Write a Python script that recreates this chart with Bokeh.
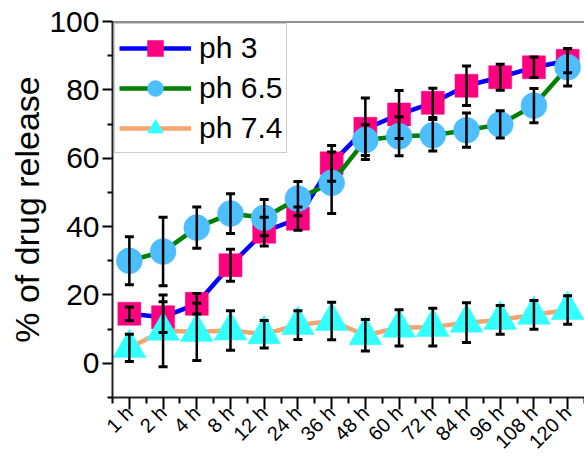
import numpy as np
from bokeh.plotting import figure
from bokeh.models import (ColumnDataSource, Whisker, TeeHead, Range1d, FixedTicker,
                          Legend, LegendItem, Span)
from bokeh.embed import file_html
from bokeh.resources import INLINE

categories = ["1 h", "2 h", "4 h", "8 h", "12 h", "24 h", "36 h", "48 h",
              "60 h", "72 h", "84 h", "96 h", "108 h", "120 h"]

ph3 = [14.5, 13.5, 17.4, 28.7, 38.5, 42.3, 58.5, 68.6, 72.8, 76.2, 81.2, 83.7, 86.6, 88.5]
ph3_err = [2.0, 4.5, 3.0, 4.7, 4.2, 3.4, 5.2, 9.0, 7.0, 4.3, 5.8, 3.8, 3.0, 3.5]

ph65 = [30.0, 32.7, 39.7, 43.8, 42.6, 48.2, 52.8, 65.3, 66.4, 66.7, 68.2, 69.9, 75.4, 86.6]
ph65_err = [7.0, 10.0, 6.0, 5.8, 5.3, 5.0, 9.0, 4.5, 5.7, 4.6, 5.0, 4.0, 5.0, 5.5]

ph74 = [4.5, 9.5, 9.2, 9.6, 8.5, 11.2, 12.4, 8.2, 10.4, 10.6, 11.9, 12.7, 14.2, 15.6]
ph74_err = [4.0, 10.5, 8.4, 5.8, 4.0, 4.2, 5.5, 4.6, 5.3, 5.5, 5.8, 4.2, 4.2, 4.2]

FONT = "Liberation Sans"

p = figure(width=584, height=463, output_backend="svg", toolbar_location=None,
           x_range=Range1d(-0.5, 13.5), y_range=Range1d(-10, 100),
           min_border_left=112, min_border_right=0, min_border_top=21,
           min_border_bottom=10)
p.outline_line_color = None
p.xgrid.visible = False
p.ygrid.visible = False
p.background_fill_color = "white"

xs = list(range(len(categories)))

series = [
    ("ph 3", ph3, ph3_err, "#0000FF", "square", "#FF0080", 23),
    ("ph 6.5", ph65, ph65_err, "#008000", "circle", "#4DBEFF", 26),
    ("ph 7.4", ph74, ph74_err, "#F7A46E", "triangle", "#33FFFF", 33),
]

items = []
whisk_sources = []
for label, vals, errs, lcol, marker, mcol, msize in series:
    v = np.array(vals)
    e = np.array(errs)
    src = ColumnDataSource(dict(x=xs, y=vals, upper=(v + e).tolist(), lower=(v - e).tolist()))
    lr = p.line("x", "y", source=src, line_color=lcol, line_width=4.5)
    sr = p.scatter("x", "y", source=src, marker=marker, size=msize,
                   fill_color=mcol, line_color=mcol, line_width=0.5)
    items.append(LegendItem(label=label, renderers=[lr, sr]))
    whisk_sources.append(src)

for src in whisk_sources:
    w = Whisker(base="x", upper="upper", lower="lower", source=src,
                line_color="black", line_width=2.5, level="overlay",
                upper_head=TeeHead(size=9, line_color="black", line_width=3),
                lower_head=TeeHead(size=9, line_color="black", line_width=3))
    p.add_layout(w)

legend = Legend(items=items, location="top_left", margin=2,
                label_text_font=FONT, label_text_font_size="30px",
                label_text_color="black",
                glyph_width=72, glyph_height=40, label_height=40,
                label_standoff=8, spacing=-1, padding=4,
                border_line_color="#999999", border_line_width=1,
                background_fill_color="white", background_fill_alpha=1.0)
p.add_layout(legend)

top = Span(location=100, dimension="width", line_color="#222222", line_width=2)
p.add_layout(top)

# y axis
yax = p.yaxis[0]
yax.ticker = FixedTicker(ticks=[0, 20, 40, 60, 80, 100], minor_ticks=[-10, 10, 30, 50, 70, 90])
yax.axis_label = "% of drug release"
yax.axis_label_text_font = FONT
yax.axis_label_text_font_size = "34px"
yax.axis_label_text_font_style = "normal"
yax.axis_label_text_color = "black"
yax.axis_label_standoff = 0
yax.major_label_text_font = FONT
yax.major_label_text_font_size = "30px"
yax.major_label_text_color = "black"
yax.major_label_standoff = 3
yax.axis_line_width = 2
yax.axis_line_color = "#222222"
yax.major_tick_line_width = 2
yax.minor_tick_line_width = 2
yax.major_tick_out = 10
yax.major_tick_in = 0
yax.minor_tick_out = 5
yax.minor_tick_in = 0

# x axis
xax = p.xaxis[0]
xax.ticker = FixedTicker(ticks=xs, minor_ticks=[i - 0.5 for i in range(len(xs) + 1)])
xax.major_label_overrides = {i: c for i, c in enumerate(categories)}
xax.major_label_orientation = np.pi / 4
xax.major_label_text_font = FONT
xax.major_label_text_font_size = "20px"
xax.major_label_text_color = "black"
xax.major_label_standoff = 0
xax.axis_line_width = 2
xax.axis_line_color = "#222222"
xax.major_tick_line_width = 2
xax.minor_tick_line_width = 2
xax.major_tick_out = 12
xax.major_tick_in = 0
xax.minor_tick_out = 6
xax.minor_tick_in = 0

open("out.html", "w").write(file_html(p, INLINE))
